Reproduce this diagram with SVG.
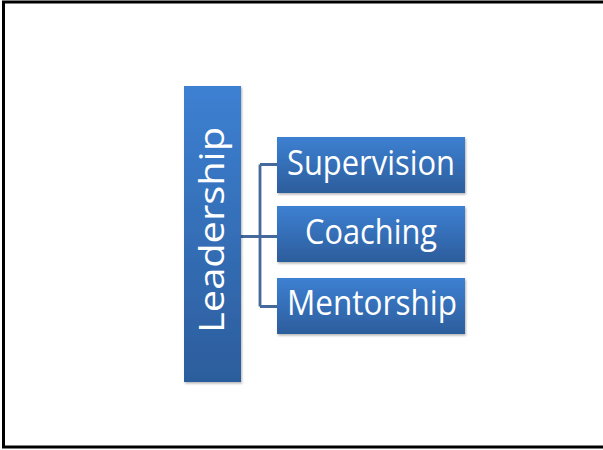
<svg xmlns="http://www.w3.org/2000/svg" width="603" height="450" viewBox="0 0 603 450">
<defs>
<linearGradient id="g" x1="0" y1="0" x2="0" y2="1">
<stop offset="0" stop-color="#3d80d2"/>
<stop offset="1" stop-color="#2c5d9c"/>
</linearGradient>
<filter id="sh" x="-10%" y="-10%" width="130%" height="130%">
<feDropShadow dx="1" dy="1.5" stdDeviation="1" flood-color="#000" flood-opacity="0.3"/>
</filter>
</defs>
<style>
.box{fill:url(#g);filter:url(#sh)}
.t{font-family:"Open Sans","Liberation Sans",sans-serif;fill:#fff;font-size:34px}
.c{stroke:#44699a;fill:none;stroke-width:2.8}
</style>
<rect x="0" y="0" width="603" height="450" fill="#fff"/>
<rect x="3.5" y="2" width="620" height="445" fill="none" stroke="#000" stroke-width="3"/>
<g id="connectors">
<path class="c" d="M241 236.5H260M260 164.5V306.5M260 164.5H277M260 236.5H277M260 306.5H277"/>
</g>
<g id="leadership">
<rect class="box" x="184" y="86" width="57" height="296"/>
<text class="t" transform="translate(224,230) rotate(-90)" text-anchor="middle" font-size="40" textLength="206" lengthAdjust="spacingAndGlyphs">Leadership</text>
</g>
<g id="supervision">
<rect class="box" x="277" y="137" width="188" height="56"/>
<text class="t" x="371" y="175" text-anchor="middle" textLength="168" lengthAdjust="spacingAndGlyphs">Supervision</text>
</g>
<g id="coaching">
<rect class="box" x="277" y="206" width="188" height="56"/>
<text class="t" x="371" y="244" text-anchor="middle" textLength="132" lengthAdjust="spacingAndGlyphs">Coaching</text>
</g>
<g id="mentorship">
<rect class="box" x="277" y="278" width="188" height="56"/>
<text class="t" x="372" y="315" text-anchor="middle" textLength="170" lengthAdjust="spacingAndGlyphs">Mentorship</text>
</g>
</svg>
